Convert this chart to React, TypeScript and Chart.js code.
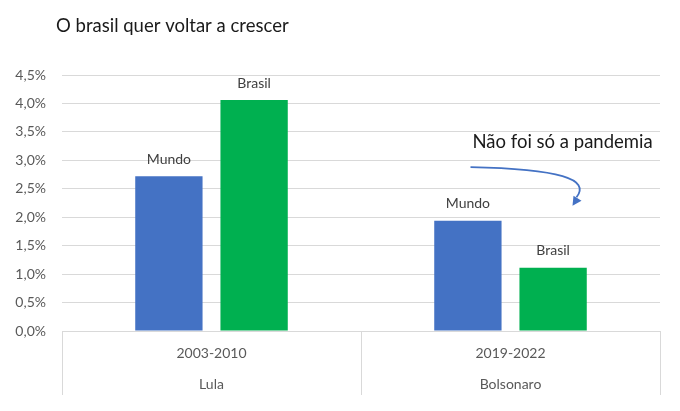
import React, { useEffect, useRef } from "react";
import { Chart, registerables } from "chart.js";

Chart.register(...registerables);

const categories: string[][] = [
  ["2003-2010", "Lula"],
  ["2019-2022", "Bolsonaro"],
];
const seriesNames = ["Mundo", "Brasil"];
const mundo = [2.72, 1.94];
const brasil = [4.06, 1.11];
const colors = ["#4472C4", "#00B050"];
const yTicks = [0, 0.5, 1, 1.5, 2, 2.5, 3, 3.5, 4, 4.5];
const title = "O brasil quer voltar a crescer";
const note = "Não foi só a pandemia";

const FONT = "Lato, 'Open Sans', sans-serif";

const annotPlugin = {
  id: "annot",
  afterDatasetsDraw(chart: any) {
    const ctx = chart.ctx;
    const ca = chart.chartArea;
    const x = chart.scales.x;
    const y = chart.scales.y;
    ctx.save();
    // data labels
    ctx.font = `14px ${FONT}`;
    ctx.fillStyle = "#404040";
    ctx.textAlign = "center";
    ctx.textBaseline = "middle";
    chart.data.datasets.forEach((ds: any, di: number) => {
      const meta = chart.getDatasetMeta(di);
      meta.data.forEach((bar: any) => {
        ctx.fillText(ds.label, bar.x, bar.y - 17);
      });
    });
    // category separators below axis
    ctx.strokeStyle = "#d9d9d9";
    ctx.lineWidth = 1;
    const n = categories.length;
    const step = (ca.right - ca.left) / n;
    for (let i = 0; i <= n; i++) {
      const px = Math.round(ca.left + i * step) + 0.5;
      ctx.beginPath();
      ctx.moveTo(px, ca.bottom);
      ctx.lineTo(px, ca.bottom + 64);
      ctx.stroke();
    }
    // title
    ctx.font = `18.5px ${FONT}`;
    ctx.fillStyle = "#1a1a1a";
    ctx.textAlign = "left";
    ctx.fillText(title, 56, 26);
    // note
    const cx = x.getPixelForValue(1);
    ctx.font = `18.5px ${FONT}`;
    ctx.fillStyle = "#1a1a1a";
    ctx.fillText(note, cx - 38, y.getPixelForValue(3.33));
    // arrow
    const sx = cx - 40;
    const sy = y.getPixelForValue(2.88);
    const ex = cx + 66;
    const ey = y.getPixelForValue(2.35);
    ctx.strokeStyle = "#4472C4";
    ctx.fillStyle = "#4472C4";
    ctx.lineWidth = 1.8;
    ctx.beginPath();
    ctx.moveTo(sx, sy);
    ctx.bezierCurveTo(cx + 50, sy + 2, cx + 80, sy + 12, ex, ey);
    ctx.stroke();
    // arrowhead pointing down-left
    const tipX = cx + 62;
    const tipY = y.getPixelForValue(2.2);
    ctx.beginPath();
    ctx.moveTo(tipX, tipY);
    ctx.lineTo(tipX + 1, tipY - 10);
    ctx.lineTo(tipX + 9, tipY - 5);
    ctx.closePath();
    ctx.fill();
    ctx.restore();
  },
};

export default function App() {
  const ref = useRef<HTMLCanvasElement>(null);
  useEffect(() => {
    document.body.style.margin = "0";
    const chart = new Chart(ref.current!, {
      type: "bar",
      data: {
        labels: categories,
        datasets: [
          { label: seriesNames[0], data: mundo, backgroundColor: colors[0] },
          { label: seriesNames[1], data: brasil, backgroundColor: colors[1] },
        ],
      },
      options: {
        responsive: false,
        animation: false,
        layout: { padding: { top: 75, right: 20, left: 0, bottom: 0 } },
        plugins: {
          legend: { display: false },
          tooltip: { enabled: false },
          title: { display: false },
        },
        datasets: {
          bar: { categoryPercentage: 0.57, barPercentage: 0.79 },
        },
        scales: {
          x: {
            grid: { display: false, drawTicks: false },
            border: { display: true, color: "#d9d9d9", width: 1 },
            ticks: {
              color: "#595959",
              font: { family: FONT, size: 14, lineHeight: 2.2 },
              padding: 7,
              maxRotation: 0,
            },
            afterFit: (s: any) => {
              s.height = 80;
            },
          },
          y: {
            min: 0,
            max: 4.5,
            afterBuildTicks: (s: any) => {
              s.ticks = yTicks.map((v) => ({ value: v }));
            },
            grid: { color: "#d9d9d9", drawTicks: false },
            border: { display: false },
            ticks: {
              color: "#595959",
              font: { family: FONT, size: 14 },
              padding: 16,
              callback: (v: any) => Number(v).toFixed(1).replace(".", ",") + "%",
            },
            afterFit: (s: any) => {
              s.width = 62;
            },
          },
        },
      },
      plugins: [annotPlugin],
    });
    return () => chart.destroy();
  }, []);
  return <canvas ref={ref} width={680} height={411} style={{ display: "block" }} />;
}
